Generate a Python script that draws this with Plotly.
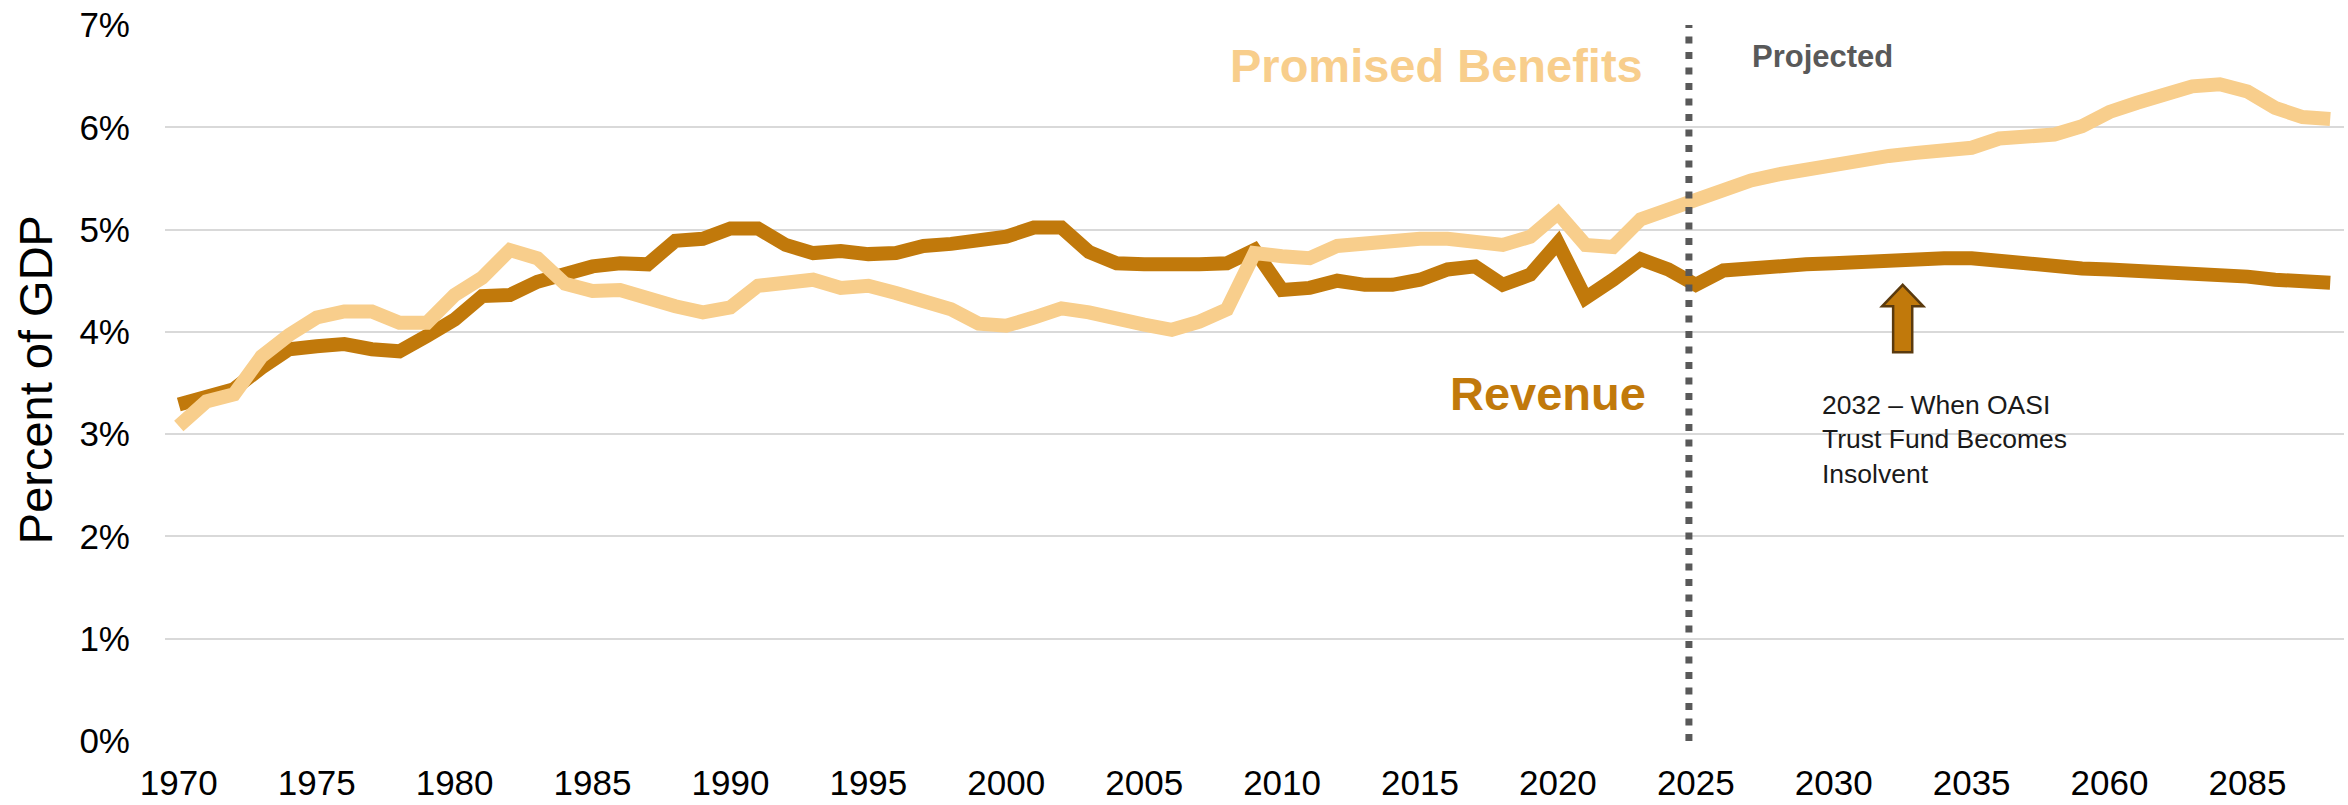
import plotly.graph_objects as go

# ---------------- data ----------------
years = list(range(1970, 2036)) + list(range(2040, 2101, 5))

revenue = [
    3.29, 3.38, 3.44, 3.65, 3.83, 3.86, 3.88, 3.83, 3.81, 3.96,   # 1970-1979
    4.12, 4.35, 4.36, 4.49, 4.58, 4.64, 4.67, 4.66, 4.89, 4.91,   # 1980-1989
    5.01, 5.01, 4.85, 4.77, 4.79, 4.76, 4.77, 4.84, 4.86, 4.89,   # 1990-1999
    4.93, 5.02, 5.02, 4.78, 4.67, 4.66, 4.65, 4.66, 4.67, 4.80,   # 2000-2009
    4.41, 4.43, 4.50, 4.46, 4.46, 4.51, 4.61, 4.64, 4.46, 4.56,   # 2010-2019
    4.87, 4.33, 4.51, 4.71, 4.61, 4.46, 4.60, 4.63, 4.65, 4.66,   # 2020-2029
    4.67, 4.69, 4.70, 4.71, 4.72, 4.72,                           # 2030-2035
    4.69, 4.65, 4.63, 4.62, 4.61, 4.60, 4.59, 4.57, 4.56, 4.54,   # 2040-2085
    4.51, 4.49, 4.48,                                             # 2090-2100
]

benefits = [
    3.08, 3.32, 3.39, 3.76, 3.97, 4.14, 4.20, 4.20, 4.09, 4.09,   # 1970-1979
    4.36, 4.53, 4.80, 4.72, 4.47, 4.40, 4.41, 4.32, 4.25, 4.19,   # 1980-1989
    4.24, 4.45, 4.49, 4.51, 4.43, 4.45, 4.38, 4.30, 4.22, 4.08,   # 1990-1999
    4.06, 4.14, 4.23, 4.19, 4.12, 4.07, 4.02, 4.10, 4.22, 4.77,   # 2000-2009
    4.74, 4.72, 4.84, 4.87, 4.89, 4.91, 4.91, 4.89, 4.85, 4.93,   # 2010-2019
    5.16, 4.85, 4.83, 5.10, 5.20, 5.30, 5.40, 5.48, 5.54, 5.59,   # 2020-2029
    5.64, 5.68, 5.72, 5.75, 5.78, 5.80,                           # 2030-2035
    5.89, 5.90, 5.93, 6.01, 6.15, 6.24, 6.33, 6.40, 6.42, 6.35,   # 2040-2085
    6.19, 6.10, 6.08,                                             # 2090-2100
]

y_ticks = [0, 1, 2, 3, 4, 5, 6, 7]
y_tick_labels = ["0%", "1%", "2%", "3%", "4%", "5%", "6%", "7%"]

projection_start = 2025
insolvency_year = 2032

# ---------------- styling ----------------
REV_COLOR = "#C1790B"
BEN_COLOR = "#F8CE8C"
GRID = "#D9D9D9"
FONT = "Liberation Sans, Arial, sans-serif"

idx = list(range(len(years)))
tick_idx = idx[::5]
tick_text = [str(years[i]) for i in tick_idx]

fig = go.Figure()
fig.add_trace(go.Scatter(x=idx, y=revenue, mode="lines", name="Revenue",
                         line=dict(color=REV_COLOR, width=14), hoverinfo="skip"))
fig.add_trace(go.Scatter(x=idx, y=benefits, mode="lines", name="Promised Benefits",
                         line=dict(color=BEN_COLOR, width=14), hoverinfo="skip"))

# vertical dotted "projected" line
px_idx = years.index(projection_start) - 0.25
fig.add_shape(type="line", xref="x", yref="y", x0=px_idx, x1=px_idx, y0=0, y1=7.1,
              line=dict(color="#595959", width=7, dash="7px,8.5px"), layer="above")

# block arrow pointing at 2032
cx = years.index(insolvency_year) + 0.5
sh, hw = 0.346, 0.747
yb, yh, yt = 3.80, 4.25, 4.46
path = (f"M{cx-sh},{yb} L{cx+sh},{yb} L{cx+sh},{yh} L{cx+hw},{yh} "
        f"L{cx},{yt} L{cx-hw},{yh} L{cx-sh},{yh} Z")
fig.add_shape(type="path", xref="x", yref="y", path=path,
              fillcolor=REV_COLOR, line=dict(color="#5A3A0E", width=2.5), layer="above")

anns = [
    dict(x=45.6, y=6.60, text="<b>Promised Benefits</b>", font=dict(size=47, color=BEN_COLOR, family=FONT),
         xanchor="center", yanchor="middle"),
    dict(x=49.65, y=3.40, text="<b>Revenue</b>", font=dict(size=47, color=REV_COLOR, family=FONT),
         xanchor="center", yanchor="middle"),
    dict(x=59.6, y=6.69, text="<b>Projected</b>", font=dict(size=31, color="#595959", family=FONT),
         xanchor="center", yanchor="middle"),
    dict(x=59.5, y=2.95, text="2032 – When OASI<br>Trust Fund Becomes<br>Insolvent",
         font=dict(size=26.5, color="#1A1A1A", family=FONT), xanchor="left", yanchor="middle", align="left"),
    dict(x=-0.0593, y=0.505, xref="paper", yref="paper", text="Percent of GDP", textangle=-90,
         font=dict(size=47, color="#000000", family=FONT), xanchor="center", yanchor="middle"),
]
for a in anns:
    a.setdefault("xref", "x")
    a.setdefault("yref", "y")
    a["showarrow"] = False
    fig.add_annotation(**a)

fig.update_layout(
    width=2348, height=805,
    margin=dict(l=165, r=4, t=25, b=64),
    paper_bgcolor="white", plot_bgcolor="white",
    showlegend=False,
    font=dict(family=FONT, color="#000000"),
)
fig.update_xaxes(range=[-0.5, len(years) - 0.5], tickvals=tick_idx, ticktext=tick_text,
                 showgrid=False, zeroline=False, showline=False, ticks="",
                 tickfont=dict(size=35, color="#000000", family=FONT), ticklabelstandoff=18)
fig.update_yaxes(range=[0, 7], tickvals=y_ticks, ticktext=y_tick_labels,
                 showgrid=True, gridcolor=GRID, gridwidth=2, zeroline=False, showline=False, ticks="",
                 tickfont=dict(size=35, color="#000000", family=FONT), ticklabelstandoff=34)

fig.write_html("out.html", config={"displayModeBar": False},
               post_script="document.body.style.margin='0';")
